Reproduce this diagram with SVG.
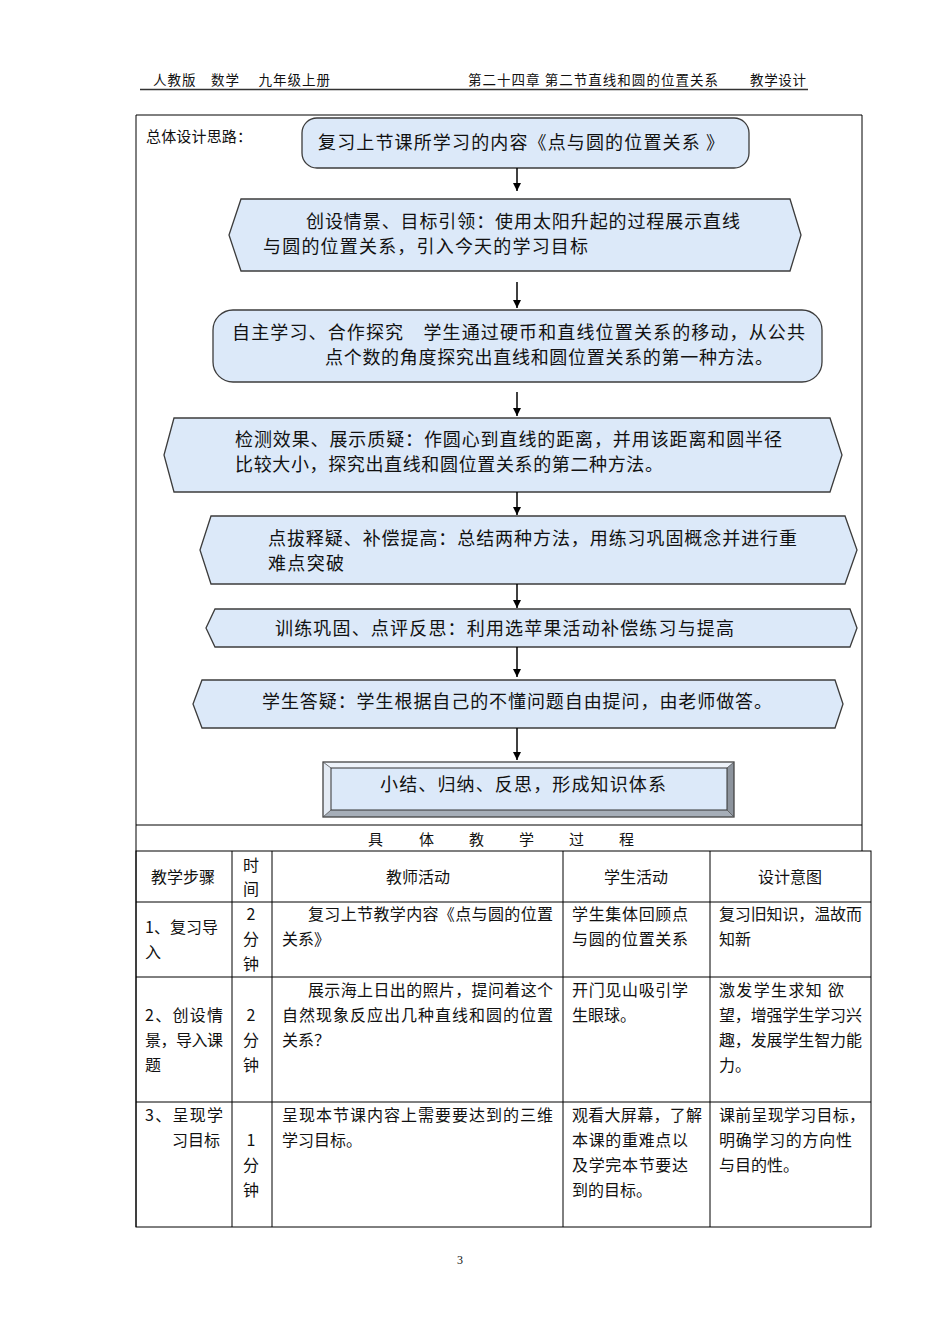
<svg xmlns="http://www.w3.org/2000/svg" width="950" height="1344" viewBox="0 0 950 1344">
<style>
text{font-family:"Noto Sans CJK SC","Noto Sans",sans-serif;fill:#111}
.hd{font-size:13.5px}
.fc{font-size:18px}
.tb{font-size:16px}
.shape{fill:#dce9f9;stroke:#3c3c3c;stroke-width:1.3}
.grid{stroke:#000;stroke-width:1;fill:none}
.conn{stroke:#000;stroke-width:1.5;fill:none;marker-end:url(#ah)}
</style>
<defs>
<marker id="ah" viewBox="0 0 10 10" refX="10" refY="5" markerWidth="8" markerHeight="9" markerUnits="userSpaceOnUse" orient="auto">
<path d="M0,0 L10,5 L0,10 z" fill="#000"/>
</marker>
</defs>
<rect width="950" height="1344" fill="#fff"/>

<g id="header">
<text class="hd" x="153" y="85" textLength="177">人教版　数学　 九年级上册</text>
<text class="hd" x="468" y="85" textLength="250">第二十四章 第二节直线和圆的位置关系</text>
<text class="hd" x="750" y="85" textLength="56">教学设计</text>
<line x1="140" y1="89.5" x2="808" y2="89.5" stroke="#333" stroke-width="1.5"/>
</g>

<g id="frame">
<path class="grid" d="M136,115 H862 V851 M136,115 V1227 M136,825 H862"/>
<text x="146" y="142" style="font-size:15px" textLength="106">总体设计思路：</text>
</g>

<g id="n1">
<rect class="shape" x="302" y="118" width="447" height="50" rx="15"/>
<text class="fc" x="318" y="149" textLength="406">复习上节课所学习的内容《点与圆的位置关系 》</text>
</g>

<g id="n2">
<polygon class="shape" points="241,199 790,199 801,235 790,271 241,271 229,235"/>
<text class="fc" x="306" y="228" textLength="434">创设情景、目标引领：使用太阳升起的过程展示直线</text>
<text class="fc" x="263" y="253" textLength="325">与圆的位置关系，引入今天的学习目标</text>
</g>

<g id="n3">
<rect class="shape" x="213" y="310" width="609" height="72" rx="20"/>
<text class="fc" x="232" y="339" textLength="573">自主学习、合作探究　学生通过硬币和直线位置关系的移动，从公共</text>
<text class="fc" x="325" y="364" textLength="448">点个数的角度探究出直线和圆位置关系的第一种方法。</text>
</g>

<g id="n4">
<polygon class="shape" points="174,418 830,418 842,455 830,492 174,492 164,455"/>
<text class="fc" x="235" y="446" textLength="547">检测效果、展示质疑：作圆心到直线的距离，并用该距离和圆半径</text>
<text class="fc" x="235" y="471" textLength="428">比较大小，探究出直线和圆位置关系的第二种方法。</text>
</g>

<g id="n5">
<polygon class="shape" points="211,516 845,516 857,550 845,584 211,584 200,550"/>
<text class="fc" x="268" y="545" textLength="529">点拔释疑、补偿提高：总结两种方法，用练习巩固概念并进行重</text>
<text class="fc" x="268" y="570" textLength="76">难点突破</text>
</g>

<g id="n6">
<polygon class="shape" points="215,609 850,609 857,628 850,647 215,647 206,628"/>
<text class="fc" x="275" y="635" textLength="459">训练巩固、点评反思：利用选苹果活动补偿练习与提高</text>
</g>

<g id="n7">
<polygon class="shape" points="202,680 835,680 843,704 835,728 202,728 193,704"/>
<text class="fc" x="262" y="708" textLength="510">学生答疑：学生根据自己的不懂问题自由提问，由老师做答。</text>
</g>

<g id="n8">
<rect x="323" y="762" width="411" height="55" fill="#dce9f9"/>
<polygon points="323,762 734,762 727,768 331,768" fill="#eef3fa"/>
<polygon points="323,762 331,768 331,810 323,817" fill="#e4ebf4"/>
<polygon points="323,817 331,810 727,810 734,817" fill="#a6aeb8"/>
<polygon points="734,762 734,817 727,810 727,768" fill="#8d949d"/>
<rect x="331" y="768" width="396" height="42" fill="#dce9f9" stroke="#333" stroke-width="1"/>
<rect x="323" y="762" width="411" height="55" fill="none" stroke="#444" stroke-width="1.3"/>
<line x1="323" y1="762" x2="331" y2="768" stroke="#555" stroke-width="0.8"/>
<line x1="734" y1="762" x2="727" y2="768" stroke="#555" stroke-width="0.8"/>
<line x1="323" y1="817" x2="331" y2="810" stroke="#555" stroke-width="0.8"/>
<line x1="734" y1="817" x2="727" y2="810" stroke="#555" stroke-width="0.8"/>
<text class="fc" x="380" y="791" textLength="286">小结、归纳、反思，形成知识体系</text>
</g>

<g id="connectors">
<line class="conn" x1="517" y1="168" x2="517" y2="191"/>
<line class="conn" x1="517" y1="282" x2="517" y2="308"/>
<line class="conn" x1="517" y1="392" x2="517" y2="416"/>
<line class="conn" x1="517" y1="492" x2="517" y2="515"/>
<line class="conn" x1="517" y1="584" x2="517" y2="608"/>
<line class="conn" x1="517" y1="647" x2="517" y2="677"/>
<line class="conn" x1="517" y1="728" x2="517" y2="760"/>
</g>

<g id="process-title">
<text x="368" y="845" style="font-size:15px">具</text>
<text x="419" y="845" style="font-size:15px">体</text>
<text x="469" y="845" style="font-size:15px">教</text>
<text x="519" y="845" style="font-size:15px">学</text>
<text x="569" y="845" style="font-size:15px">过</text>
<text x="619" y="845" style="font-size:15px">程</text>
</g>

<g id="table">
<rect class="grid" x="136" y="851" width="735" height="376"/>
<path class="grid" d="M136,902 H871 M136,977 H871 M136,1102 H871 M232,851 V1227 M272,851 V1227 M563,851 V1227 M710,851 V1227"/>
<g class="tb" text-anchor="middle">
<text x="183" y="883">教学步骤</text>
<text x="251" y="871">时</text>
<text x="251" y="895">间</text>
<text x="418" y="883">教师活动</text>
<text x="636" y="883">学生活动</text>
<text x="790" y="883">设计意图</text>
<text x="251" y="920">2</text>
<text x="251" y="945">分</text>
<text x="251" y="970">钟</text>
<text x="251" y="1021">2</text>
<text x="251" y="1046">分</text>
<text x="251" y="1071">钟</text>
<text x="251" y="1146">1</text>
<text x="251" y="1171">分</text>
<text x="251" y="1196">钟</text>
</g>
<g class="tb">
<text x="145" y="933">1、复习导</text>
<text x="145" y="958">入</text>
<text x="308" y="920" textLength="245">复习上节教学内容《点与圆的位置</text>
<text x="282" y="945">关系》</text>
<text x="572" y="920" textLength="116">学生集体回顾点</text>
<text x="572" y="945" textLength="116">与圆的位置关系</text>
<text x="719" y="920" textLength="143">复习旧知识，温故而</text>
<text x="719" y="945">知新</text>

<text x="145" y="1021" textLength="78">2、创设情</text>
<text x="145" y="1046" textLength="78">景，导入课</text>
<text x="145" y="1071">题</text>
<text x="308" y="996" textLength="245">展示海上日出的照片，提问着这个</text>
<text x="282" y="1021" textLength="271">自然现象反应出几种直线和圆的位置</text>
<text x="282" y="1046">关系？</text>
<text x="572" y="996" textLength="116">开门见山吸引学</text>
<text x="572" y="1021">生眼球。</text>
<text x="719" y="996" textLength="125">激发学生求知 欲</text>
<text x="719" y="1021" textLength="143">望，增强学生学习兴</text>
<text x="719" y="1046" textLength="143">趣，发展学生智力能</text>
<text x="719" y="1071">力。</text>

<text x="145" y="1121" textLength="78">3、呈现学</text>
<text x="172" y="1146">习目标</text>
<text x="282" y="1121" textLength="271">呈现本节课内容上需要要达到的三维</text>
<text x="282" y="1146">学习目标。</text>
<text x="572" y="1121" textLength="130">观看大屏幕，了解</text>
<text x="572" y="1146" textLength="116">本课的重难点以</text>
<text x="572" y="1171" textLength="116">及学完本节要达</text>
<text x="572" y="1196">到的目标。</text>
<text x="719" y="1121" textLength="146">课前呈现学习目标，</text>
<text x="719" y="1146" textLength="133">明确学习的方向性</text>
<text x="719" y="1171">与目的性。</text>
</g>
</g>

<text x="460" y="1264" text-anchor="middle" style="font-size:12px;font-family:'Liberation Serif',serif">3</text>
</svg>
